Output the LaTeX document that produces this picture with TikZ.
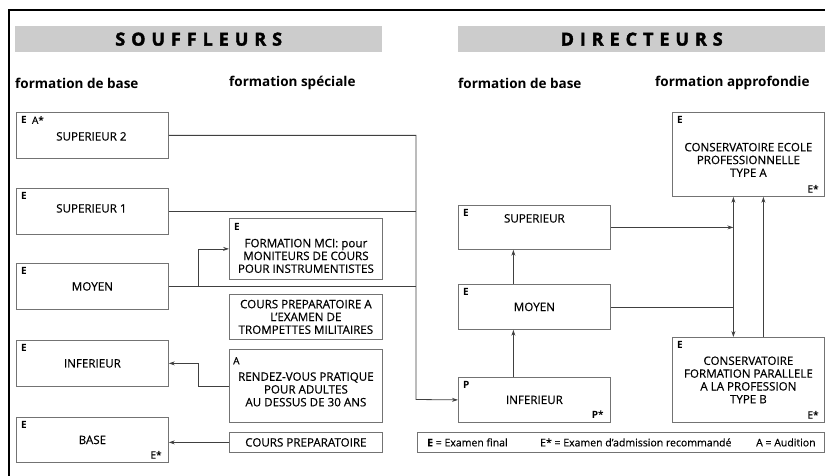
\documentclass[tikz,border=0pt]{standalone}
\usepackage{fontspec}
\setmainfont{Open Sans}
\newfontfamily\titlefont[LetterSpace=33, BoldFeatures={FakeBold=2}]{Open Sans}
\newfontfamily\boxfont[FakeBold=0.5]{Open Sans}
\usetikzlibrary{arrows.meta}

\begin{document}
\begin{tikzpicture}[x=1pt,y=-1pt,
  box/.style={draw=black!55, line width=0.8pt, inner sep=0pt, anchor=north west,
    align=center, font=\boxfont\fontsize{11.6}{12.8}\selectfont},
  txt/.style={inner sep=0pt, align=center, font=\boxfont\fontsize{11.6}{12.8}\selectfont},
  tag/.style={inner sep=0pt, anchor=north west, font=\fontsize{10}{10}\selectfont\bfseries},
  star/.style={inner sep=0pt, anchor=south east, font=\boxfont\fontsize{10}{10}\selectfont},
  head/.style={anchor=west, inner sep=0pt, font=\fontsize{13.5}{15}\selectfont\bfseries},
  band/.style={fill=black!20, inner sep=0pt, anchor=north west,
    font=\titlefont\fontsize{18}{20}\selectfont\bfseries},
  conn/.style={draw=black!75, line width=0.8pt},
  arr/.style={conn, -{Stealth[length=6pt,width=4pt]}},
  arrs/.style={conn, {Stealth[length=6pt,width=4pt]}-{Stealth[length=6pt,width=4pt]}}
]
\useasboundingbox (0,0) rectangle (825,476);

% frame
\draw[line width=2pt] (8,10) -- (825,10);
\draw[line width=2pt] (9,10) -- (9,476);

% titles
\node[band, minimum width=367, minimum height=26] (souf) at (15,26) {SOUFFLEURS};
\node[band, minimum width=367, minimum height=26] (dir) at (458,26) {DIRECTEURS};
\node[head] (hsbase) at (15,83) {formation de base};
\node[head] (hsspec) at (229,83) {formation spéciale};
\node[head] (hdbase) at (458,83) {formation de base};
\node[head] (hdappr) at (655,83) {formation approfondie};

% souffleurs - formation de base
\node[box, minimum width=152, minimum height=46] (sup2) at (16,112) {};
\node[box, minimum width=152, minimum height=46] (sup1) at (16,188) {};
\node[box, minimum width=152, minimum height=46] (moy) at (16,263) {MOYEN};
\node[box, minimum width=152, minimum height=46] (inf) at (16,340) {INFERIEUR};
\node[box, minimum width=152, minimum height=45] (base) at (16,417) {BASE};
\node[txt] (sup2txt) at ([xshift=-1pt,yshift=-1pt]sup2.center) {SUPERIEUR 2};
\node[txt] (sup1txt) at ([xshift=-1pt,yshift=3pt]sup1.center) {SUPERIEUR 1};
\node[tag] (sup2e) at ([xshift=5pt,yshift=-4pt]sup2.north west) {E~~{\boxfont\mdseries A*}};
\node[tag] (sup1e) at ([xshift=5pt,yshift=-4pt]sup1.north west) {E};
\node[tag] (moye) at ([xshift=5pt,yshift=-4pt]moy.north west) {E};
\node[tag] (infe) at ([xshift=5pt,yshift=-4pt]inf.north west) {E};
\node[tag] (basee) at ([xshift=5pt,yshift=-4pt]base.north west) {E};
\node[star] (bases) at ([xshift=-7pt,yshift=4pt]base.south east) {E*};

% souffleurs - formation speciale
\node[box, minimum width=153, minimum height=61] (mci) at (229,218) {};
\node[box, minimum width=153, minimum height=45] (cpa) at (229,294)
  {COURS PREPARATOIRE A\\L’EXAMEN DE\\TROMPETTES MILITAIRES};
\node[box, minimum width=153, minimum height=73] (rdv) at (229,349) {};
\node[box, minimum width=153, minimum height=20] (cprep) at (229,432) {COURS PREPARATOIRE};
\node[txt] (mcitxt) at ([yshift=-7pt]mci.center)
  {FORMATION MCI: pour\\MONITEURS DE COURS\\POUR INSTRUMENTISTES};
\node[tag] (mcie) at ([xshift=5pt,yshift=-5pt]mci.north west) {E};
\node[txt] (rdvtxt) at ([yshift=-3.5pt]rdv.center)
  {RENDEZ-VOUS PRATIQUE\\POUR ADULTES\\AU DESSUS DE 30 ANS};
\node[tag, font=\boxfont\fontsize{10}{10}\selectfont] (rdva) at ([xshift=4pt,yshift=-8pt]rdv.north west) {A};

% directeurs - formation de base
\node[box, minimum width=152, minimum height=44] (dsup) at (458,205) {};
\node[box, minimum width=152, minimum height=45] (dmoy) at (458,284) {MOYEN};
\node[box, minimum width=152, minimum height=45] (dinf) at (458,377) {INFERIEUR};
\node[txt] (dsuptxt) at ([yshift=9pt]dsup.center) {SUPERIEUR};
\node[tag] (dsupe) at ([xshift=5pt,yshift=-4pt]dsup.north west) {E};
\node[tag] (dmoye) at ([xshift=5pt,yshift=-4pt]dmoy.north west) {E};
\node[tag] (dinfp) at ([xshift=5pt,yshift=-4pt]dinf.north west) {P};
\node[star, font=\fontsize{10}{10}\selectfont\bfseries] (dinfs) at ([xshift=-7pt,yshift=4pt]dinf.south east) {P*};

% directeurs - formation approfondie
\node[box, minimum width=152, minimum height=84] (ca) at (672,112) {};
\node[box, minimum width=152, minimum height=85] (cb) at (672,337)
  {CONSERVATOIRE\\FORMATION PARALLELE\\A LA PROFESSION\\TYPE B};
\node[txt] (catxt) at ([yshift=-5.5pt]ca.center)
  {CONSERVATOIRE ECOLE\\PROFESSIONNELLE\\TYPE A};
\node[tag] (cae) at ([xshift=5pt,yshift=-4pt]ca.north west) {E};
\node[star] (cas) at ([xshift=-6pt,yshift=4pt]ca.south east) {E*};
\node[tag] (cbe) at ([xshift=5pt,yshift=-4pt]cb.north west) {E};
\node[star] (cbs) at ([xshift=-6pt,yshift=4pt]cb.south east) {E*};

% legende
\node[box, minimum width=407, minimum height=20] (leg) at (417,432) {};
\node[txt, anchor=west, font=\boxfont\fontsize{10.5}{12}\selectfont] (lege) at ([xshift=10pt]leg.west) {{\bfseries E} = Examen final};
\node[txt, anchor=west, font=\boxfont\fontsize{10.5}{12}\selectfont] (legs) at ([xshift=123pt]leg.west) {E* = Examen d’admission recommandé};
\node[txt, anchor=east, font=\boxfont\fontsize{10.5}{12}\selectfont] (lega) at ([xshift=-9pt]leg.east) {A = Audition};

% connections
\coordinate (j) at (416,399.5);
\coordinate (b) at (198,287);
\coordinate (v1) at ([xshift=-15pt]ca.south);
\coordinate (v2) at ([xshift=15pt]ca.south);
\draw[arr] (sup2.east) -| (j) -- (dinf.west);
\draw[conn] (sup1.east) -- (sup1.east -| j);
\draw[conn] (moy.east) -- (moy.east -| j);
\draw[arr] (b) |- (mci.west);
\draw[arr] (rdv.west) -- ++(-31,0) |- (inf.east);
\draw[arr] (cprep.west) -- (cprep.west -| base.east);
\draw[arr] ([xshift=-21pt]dinf.north) -- ([xshift=-21pt]dmoy.south);
\draw[arr] ([xshift=-21pt]dmoy.north) -- ([xshift=-21pt]dsup.south);
\draw[arrs] (v1) -- (v1 |- cb.north);
\draw[arr] (dsup.east) -- (dsup.east -| v1);
\draw[conn] (dmoy.east) -- (dmoy.east -| v1);
\draw[arr] (v2 |- cb.north) -- (v2);
\end{tikzpicture}
\end{document}
